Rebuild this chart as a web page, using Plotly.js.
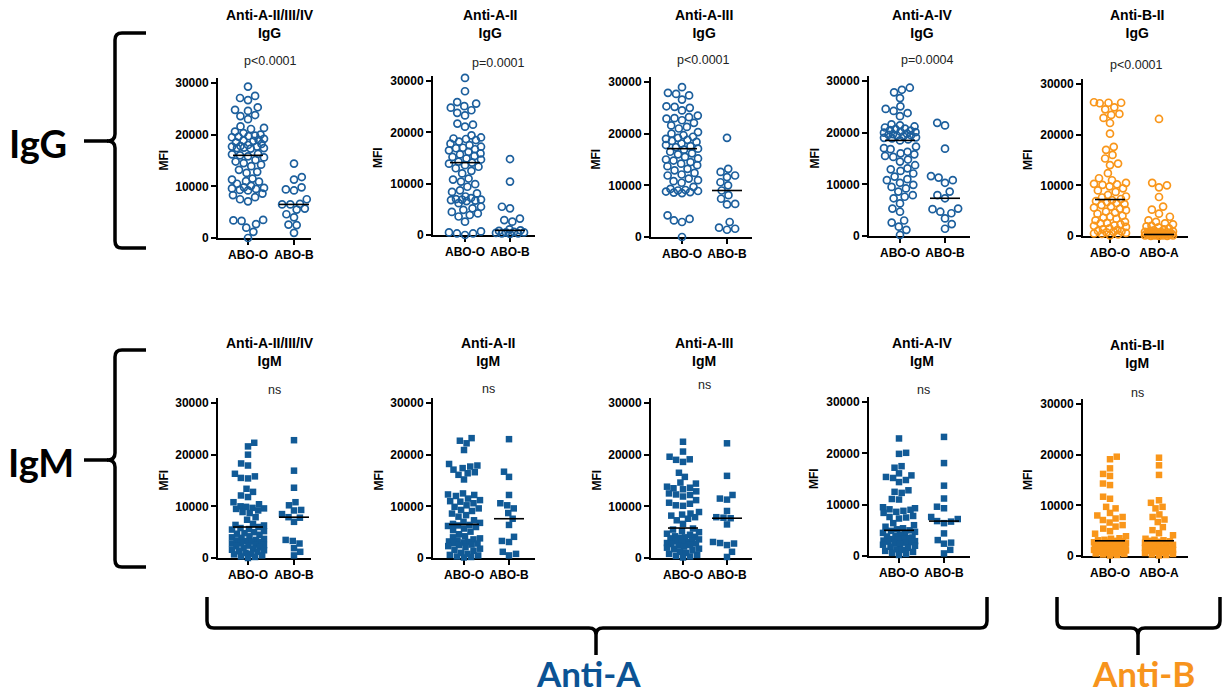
<!DOCTYPE html>
<html><head><meta charset="utf-8">
<script src="https://cdn.plot.ly/plotly-3.0.1.min.js"></script>
<style>html,body{margin:0;padding:0;background:#fff}#chart{width:1222px;height:696px}</style>
</head><body><div id="chart"></div>
<script>
// ---------------- DATA ----------------
const panelTitles = ['Anti-A-II/III/IV','Anti-A-II','Anti-A-III','Anti-A-IV','Anti-B-II',
                     'Anti-A-II/III/IV','Anti-A-II','Anti-A-III','Anti-A-IV','Anti-B-II'];
const isotypes = ['IgG','IgG','IgG','IgG','IgG','IgM','IgM','IgM','IgM','IgM'];
const pLabels = ['p<0.0001','p=0.0001','p<0.0001','p=0.0004','p<0.0001','ns','ns','ns','ns','ns'];
const catsA = ['ABO-O','ABO-B'];
const catsB = ['ABO-O','ABO-A'];
const yTicks = [0,10000,20000,30000];

// IgG
const iggA234_O = [29300,27500,27100,26700,25300,24800,24600,23800,23600,23000,21600,21300,21100,20600,20300,20000,19800,19700,19600,19500,19200,19000,18900,18800,18500,18200,18000,17800,17700,17700,17500,17400,17400,17300,16300,16200,16000,15800,15600,15100,14800,14500,14200,13900,13200,12800,12600,11500,11300,11000,10900,10500,10100,9800,9700,9600,9500,9300,9200,8600,8300,7900,7500,7100,3500,3400,3300,2700,2000,1200,0];
const iggA234_B = [14400,11800,11300,9800,9400,9200,7500,6600,6500,6500,5700,5500,4600,4000,2600,2500,1000];
const iggA2_O = [30600,28000,25900,25600,25100,24800,24300,23800,23300,21700,21500,21100,19400,19000,18800,18700,18500,18200,17800,17500,17200,17000,16900,16700,16500,16200,15900,15700,15400,15200,14900,14700,14300,14100,13900,13600,13300,13000,12500,12000,11000,10800,10400,9900,9400,8700,8400,8100,7500,7200,7000,6900,6900,6800,6700,6600,6200,5500,5200,4900,4500,4200,3900,3600,2600,700,500,300,300,0];
const iggA2_B = [14800,10400,5500,5200,3200,2900,2600,1100,900,800,600,500,500,400,300,300,200];
const iggA3_O = [29000,27900,27700,27400,26600,25300,25200,25000,24500,23500,23200,23000,22900,22600,22100,21600,21300,21000,20300,20000,19700,19400,19200,19000,18800,18600,18400,18100,17800,17600,17400,17100,16900,16500,16200,16000,15500,15200,15000,14800,14500,14200,13900,13700,13200,12900,12400,12100,11900,11300,11000,10800,10500,9700,9300,9100,9000,8900,8800,8700,8600,8500,4200,3500,3200,2900,0];
const iggA3_B = [19200,13200,12600,11900,11600,10600,10000,9000,8100,7400,6400,6300,2900,1800,1600,1400];
const iggA4_O = [28700,28300,27800,26700,25100,24600,24200,23800,23200,21600,21400,21200,21000,20800,20700,20500,20400,20200,20100,20000,19800,19700,19600,19500,19400,19300,19100,19000,18900,18700,18500,17300,17000,16800,16300,16000,15800,15500,15300,14800,14400,13700,13100,12900,12600,12100,11500,11000,10800,10300,9900,9500,9200,8600,7900,7600,7300,6300,5300,4700,3000,2600,1800,1200,200];
const iggA4_B = [21900,21400,16900,11600,11300,10800,10300,8600,7900,7300,5300,5200,4700,4400,3400,2300,1400];
const iggB2_O = [26400,26300,26300,26200,25400,25000,24100,23900,23300,22300,20200,17600,17000,16000,15300,14300,14000,12400,11400,11000,10500,10300,10200,10100,9800,9400,9000,8700,8100,7800,7600,7300,7100,6900,6700,6500,6300,6100,5800,5600,5400,5100,4800,4600,4400,4000,3800,3600,3400,3100,2800,2600,2500,2300,2100,2000,1800,1500,1300,1200,1000,900,800,700,600,500,400,300,100];
const iggB2_A = [23100,10500,10000,9600,7700,5800,5200,4400,3800,3100,2800,2500,2300,2000,1900,1700,1500,1300,1100,1000,900,800,800,700,700,600,600,500,500,500,400,400,400,300,300,300,300,200,200,200,200,100,100,100,100,0,0,0];
// IgM
const igmA234_O = [22300,21600,20000,18300,17900,16300,15800,15500,15400,13400,12800,12100,11800,10800,10400,10000,9900,9700,9600,9500,9200,8900,8700,7900,7400,6600,6400,6300,6000,5800,5600,5500,5200,5000,4800,4700,4500,4200,4000,3900,3700,3500,3400,3300,3200,3100,2900,2800,2600,2500,2400,2300,2100,2000,1800,1600,1500,1300,1200,1000,800,700,500,300,200,0];
const igmA234_B = [22800,16900,13600,10800,10200,9300,9200,8500,7900,7800,7000,3500,3300,2800,1900,1200,500];
const igmA2_O = [23200,22700,22200,20900,18200,17900,17700,17400,17100,16600,16400,16100,15200,12500,12300,12200,12000,11500,11200,11000,10900,10600,10200,9900,9600,9300,9100,8600,8300,8000,7300,7000,6800,6600,6400,6300,6200,6000,5700,5400,5100,4600,4200,4000,3800,3600,3400,3200,3100,3000,2900,2800,2600,2500,2300,2100,1800,1600,1400,1000,800,600,500,300,200,100];
const igmA2_B = [23000,16700,15700,12200,10600,10200,9600,8700,7600,6400,4100,3300,3100,1200,800,500];
const igmA3_O = [22500,20600,19600,19100,19000,18600,16500,15700,14600,14400,13800,13600,13500,13300,12900,12500,12300,12200,11900,11200,10700,10500,10200,10100,8900,8600,8400,8200,7900,7600,7300,6600,5700,5500,5200,5000,4700,4500,4200,4100,4000,3900,3800,3600,3400,3300,3100,3000,2900,2800,2700,2500,2400,2200,2000,1800,1700,1500,1200,1000,800,600,400,300,100];
const igmA3_B = [22200,15900,12200,11500,11300,9100,7900,7800,7700,6500,3100,2900,2800,2500,1200,200];
const igmA4_O = [22900,20100,19900,17500,17200,16100,15700,15400,15200,14800,14400,12800,12500,12300,11100,11000,9500,9300,9100,9000,8800,8600,8400,7800,7600,7500,7300,6400,6000,5700,5400,5200,5000,4900,4700,4500,4300,4100,3900,3800,3600,3500,3400,3300,3100,3000,2900,2800,2700,2600,2500,2300,2200,2000,1800,1600,1300,1200,1000,800,600,400,200];
const igmA4_B = [23200,18100,13700,11200,9600,9300,7600,7200,6800,6700,6400,4400,3100,2600,2400,1200,500];
const igmB2_O = [19600,19100,17300,16200,15800,14300,14000,11700,11300,9700,9400,8500,8000,7700,7400,7100,6600,6100,5800,5400,4900,4400,3900,3500,3400,3200,3100,3000,2900,2800,2700,2600,2500,2500,2400,2300,2200,2100,2000,2000,1900,1800,1700,1600,1500,1500,1400,1300,1200,1100,1000,1000,900,800,700,600,500,500,400,300,200,100];
const igmB2_A = [19400,17900,16000,11000,10500,9700,9400,8200,7700,7200,6700,5700,5100,4500,4100,3400,3200,3100,3000,2900,2800,2600,2400,2300,2200,2000,1900,1800,1700,1600,1500,1400,1200,1100,1000,900,800,700,600,400,300,200,100];

const medians = [[16000,6500],[14100,900],[17100,9000],[18500,7300],[7200,300],
                 [6000,7900],[6500,7600],[5800,7700],[5000,6800],[3000,3000]];
const groups = [[iggA234_O,iggA234_B],[iggA2_O,iggA2_B],[iggA3_O,iggA3_B],[iggA4_O,iggA4_B],[iggB2_O,iggB2_A],
                [igmA234_O,igmA234_B],[igmA2_O,igmA2_B],[igmA3_O,igmA3_B],[igmA4_O,igmA4_B],[igmB2_O,igmB2_A]];
const categories = [catsA,catsA,catsA,catsA,catsB,catsA,catsA,catsA,catsA,catsB];
const rowLabels = ['IgG','IgM'];
const bottomLabels = ['Anti-A','Anti-B'];

// ---------------- LAYOUT / STYLE ----------------
const W = 1222, H = 696;
const FONT = 'Liberation Sans, Arial, sans-serif';
const BLUE_O = '#1c5f9d', BLUE_S = '#115a96', ORANGE = '#f9961a';
const geom = [
 {L:218,c0:248,c1:294,R:311,y0:238,y30:83, tx:270,ty:24,px:270,py:61},
 {L:433,c0:465,c1:510,R:535,y0:235,y30:81, tx:490,ty:24,px:498,py:63},
 {L:651,c0:682,c1:727,R:752,y0:237,y30:82, tx:704,ty:24,px:703,py:60},
 {L:869,c0:900,c1:945,R:970,y0:236,y30:81, tx:922,ty:24,px:927,py:60},
 {L:1083,c0:1110,c1:1159,R:1188,y0:236,y30:84, tx:1137,ty:24,px:1136,py:65},
 {L:218,c0:248,c1:294,R:311,y0:558,y30:403, tx:270,ty:352,px:274,py:390},
 {L:433,c0:464,c1:509,R:535,y0:558,y30:403, tx:488,ty:352,px:488,py:389},
 {L:651,c0:683,c1:727,R:752,y0:558,y30:403, tx:704,ty:352,px:704,py:385},
 {L:869,c0:899,c1:944,R:970,y0:556,y30:402, tx:922,ty:352,px:923,py:390},
 {L:1083,c0:1110,c1:1159,R:1188,y0:556,y30:404, tx:1137,ty:354,px:1137,py:393}
];
const fx = x => x / W, fy = y => 1 - y / H;

function swarm(vals, pxPerVal, D, cap) {
  const idx = vals.map((v,i)=>i).sort((a,b)=>vals[a]-vals[b]);
  const placed = [], off = new Array(vals.length);
  let flip = 1;
  for (const i of idx) {
    const y = vals[i]*pxPerVal;
    const near = placed.filter(p=>Math.abs(p.y-y) < D);
    const cands = [0];
    near.forEach(p=>{const dx=Math.sqrt(D*D-(p.y-y)**2); cands.push(p.x+dx, p.x-dx);});
    cands.sort((a,b)=>(Math.abs(a)-Math.abs(b)) || (flip*(a-b)));
    let best = null;
    for (const c of cands) {
      if (Math.abs(c) > cap) continue;
      if (near.every(p=>Math.hypot(p.x-c,p.y-y) >= D-1e-6)) { best = c; break; }
    }
    if (best === null) {
      let bm = -1;
      for (let c=-cap; c<=cap; c+=0.5) {
        const m = Math.min(...near.map(p=>Math.hypot(p.x-c,p.y-y)));
        if (m > bm) { bm = m; best = c; }
      }
    }
    flip = -flip;
    placed.push({x:best,y}); off[i] = best;
  }
  return off;
}

const traces = [], layout = {
  width: W, height: H, autosize: false, margin:{l:0,r:0,t:0,b:0},
  paper_bgcolor:'#fff', plot_bgcolor:'rgba(0,0,0,0)', showlegend:false,
  font:{family:FONT,color:'#000'}, annotations:[], shapes:[]
};

geom.forEach((g,k)=>{
  const n = k+1, xa = 'xaxis'+(n===1?'':n), ya = 'yaxis'+(n===1?'':n);
  const unit = g.c1 - g.c0;
  const yTopPx = g.y30 - 5;
  const yMax = 30000*(g.y0-yTopPx)/(g.y0-g.y30);
  const pxPerVal = (g.y0-g.y30)/30000;
  const isIgM = k >= 5, isB = (k % 5) === 4;
  const color = isB ? ORANGE : (isIgM ? BLUE_S : BLUE_O);
  layout[xa] = {domain:[fx(g.L), fx(g.R)], range:[(g.L-g.c0)/unit, (g.R-g.c0)/unit],
    anchor:'y'+(n===1?'':n), tickvals:[0,1], ticktext:categories[k], showline:true, linewidth:2, linecolor:'#000',
    ticks:'outside', ticklen:5, tickwidth:2, tickcolor:'#000', showgrid:false, zeroline:false, fixedrange:true,
    tickfont:{family:FONT,size:12,weight:'bold',color:'#000'}, layer:'below traces'};
  layout[ya] = {domain:[fy(g.y0), fy(yTopPx)], range:[0,yMax], anchor:'x'+(n===1?'':n),
    tickvals:yTicks, tickformat:'d', showline:true, linewidth:2, linecolor:'#000',
    ticks:'outside', ticklen:5, tickwidth:2, tickcolor:'#000', showgrid:false, zeroline:false, fixedrange:true,
    tickfont:{family:FONT,size:12,weight:'bold',color:'#000'}, layer:'below traces'};
  groups[k].forEach((vals,c)=>{
    const cap = c===0 ? 16 : 14;
    const D = isIgM ? 7.2 : 8.2;
    const offs = swarm(vals, pxPerVal, D, cap);
    traces.push({type:'scatter', mode:'markers', xaxis:'x'+(n===1?'':n), yaxis:'y'+(n===1?'':n),
      x: vals.map((v,i)=>c + offs[i]/unit), y: vals, cliponaxis:false, hoverinfo:'skip',
      marker: isIgM ? {symbol:'square', size:6.5, color:color, line:{width:0}}
                    : {symbol:'circle-open', size:7, color:color, line:{width:1.7, color:color}}});
    const hw = 15/unit;
    traces.push({type:'scatter', mode:'lines', xaxis:'x'+(n===1?'':n), yaxis:'y'+(n===1?'':n),
      x:[c-hw, c+hw], y:[medians[k][c], medians[k][c]], cliponaxis:false, hoverinfo:'skip',
      line:{color:'#000', width:1.6}});
  });
  layout.annotations.push({xref:'paper',yref:'paper',x:fx(g.tx),y:fy(g.ty),xanchor:'center',yanchor:'middle',
    showarrow:false, text:'<b>'+panelTitles[k]+'<br>'+isotypes[k]+'</b>', font:{family:FONT,size:14,color:'#000'}});
  layout.annotations.push({xref:'paper',yref:'paper',x:fx(g.px),y:fy(g.py),xanchor:'center',yanchor:'middle',
    showarrow:false, text:pLabels[k], font:{family:FONT,size:12.5,color:'#222'}});
  layout.annotations.push({xref:'paper',yref:'paper',x:fx(g.L-55),y:fy((g.y0+g.y30)/2),xanchor:'center',yanchor:'middle',
    showarrow:false, textangle:-90, text:'<b>MFI</b>', font:{family:FONT,size:12,color:'#000'}});
});

// braces
function P(x,y){ return fx(x).toFixed(5)+','+fy(y).toFixed(5); }
function leftBrace(xr, xv, xt, yt, ym, yb, r){
  return 'M'+P(xr,yt)+' L'+P(xv+r,yt)+' Q'+P(xv,yt)+' '+P(xv,yt+r)+' L'+P(xv,ym-r)+' Q'+P(xv,ym)+' '+P(xt,ym)+
         ' Q'+P(xv,ym)+' '+P(xv,ym+r)+' L'+P(xv,yb-r)+' Q'+P(xv,yb)+' '+P(xv+r,yb)+' L'+P(xr,yb);
}
function bottomBrace(x1, x2, xc, yt, yh, ytip, r){
  return 'M'+P(x1,yt)+' L'+P(x1,yh-r)+' Q'+P(x1,yh)+' '+P(x1+r,yh)+' L'+P(xc-r,yh)+' Q'+P(xc,yh)+' '+P(xc,yh+r)+
         ' L'+P(xc,ytip)+' M'+P(xc,yh+r)+' Q'+P(xc,yh)+' '+P(xc+r,yh)+' L'+P(x2-r,yh)+' Q'+P(x2,yh)+' '+P(x2,yh-r)+' L'+P(x2,yt);
}
const braceLine = {color:'#000', width:3.5};
layout.shapes.push({type:'path', xref:'paper', yref:'paper', path:leftBrace(146,115,107,33,141,248,7), line:braceLine});
layout.shapes.push({type:'path', xref:'paper', yref:'paper', path:leftBrace(146,115,107,350,460,567,7), line:braceLine});
layout.shapes.push({type:'line', xref:'paper', yref:'paper', x0:fx(84), x1:fx(108), y0:fy(141), y1:fy(141), line:braceLine});
layout.shapes.push({type:'line', xref:'paper', yref:'paper', x0:fx(84), x1:fx(108), y0:fy(460), y1:fy(460), line:braceLine});
layout.shapes.push({type:'path', xref:'paper', yref:'paper', path:bottomBrace(207,987,596,597,628,655,7), line:braceLine});
layout.shapes.push({type:'path', xref:'paper', yref:'paper', path:bottomBrace(1057,1220,1138,597,628,655,7), line:braceLine});

const BIG = 'Lato, Noto Sans, sans-serif';
layout.annotations.push({xref:'paper',yref:'paper',x:fx(38),y:fy(143),xanchor:'center',yanchor:'middle',showarrow:false,
  text:'<b>'+rowLabels[0]+'</b>', font:{family:BIG,size:38,color:'#000'}});
layout.annotations.push({xref:'paper',yref:'paper',x:fx(41),y:fy(462),xanchor:'center',yanchor:'middle',showarrow:false,
  text:'<b>'+rowLabels[1]+'</b>', font:{family:BIG,size:38,color:'#000'}});
layout.annotations.push({xref:'paper',yref:'paper',x:fx(588),y:fy(673),xanchor:'center',yanchor:'middle',showarrow:false,
  text:'<b>'+bottomLabels[0]+'</b>', font:{family:BIG,size:35,color:'#0b5394'}});
layout.annotations.push({xref:'paper',yref:'paper',x:fx(1143),y:fy(673),xanchor:'center',yanchor:'middle',showarrow:false,
  text:'<b>'+bottomLabels[1]+'</b>', font:{family:BIG,size:35,color:'#f7941d'}});

Plotly.newPlot('chart', traces, layout, {staticPlot:true, displayModeBar:false});
</script></body></html>
